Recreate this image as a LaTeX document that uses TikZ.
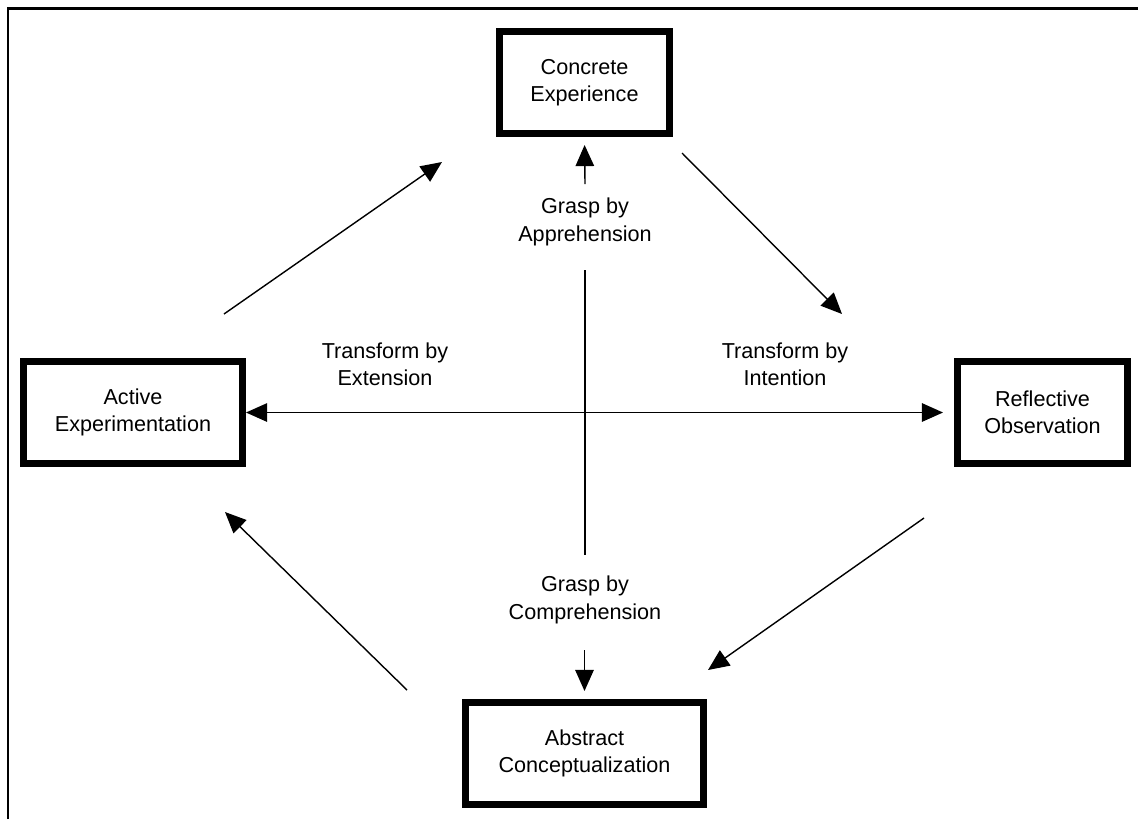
\documentclass[tikz,border=0pt]{standalone}
\usepackage{fontspec}
\setmainfont{Liberation Sans}
\usetikzlibrary{arrows.meta, positioning}
\tikzset{
  modebox/.style={
    rectangle, draw=black, line width=4pt, fill=white,
    minimum width=#1, minimum height=2.04cm,
    align=center, font=\fontsize{12.3}{15.5}\selectfont
  },
  cyclelabel/.style={
    align=center, inner sep=0pt,
    font=\fontsize{12.3}{15.5}\selectfont
  },
  cyclearrow/.style={-{Triangle[length=12pt, width=10.5pt]}, line width=0.8pt},
  twowayarrow/.style={{Triangle[length=12pt, width=10.5pt]}-{Triangle[length=12pt, width=10.5pt]}, line width=0.8pt},
  axisline/.style={line width=0.8pt},
  frameline/.style={line width=1.2pt},
}

\begin{document}
\begin{tikzpicture}[x=0.02cm, y=-0.02cm]
  \useasboundingbox (0,0) rectangle (1138,819);
  \draw[frameline] (8,819) -- (8,8.5) -- (1138,8.5);

  % the four learning modes
  \node[modebox=3.4cm](ce) at (584.5,82.5) {Concrete\\Experience};
  \node[modebox=4.38cm](ae) at (133,412.5) {Active\\Experimentation};
  \node[modebox=3.4cm](ro) at (1042.5,412.5) {Reflective\\Observation};
  \node[modebox=4.76cm](ac) at (584.5,753.5) {Abstract\\Conceptualization};

  % axis labels
  \node[cyclelabel](apprehend) at (585,222) {Grasp by\\Apprehension};
  \node[cyclelabel](comprehend) at (585,600) {Grasp by\\Comprehension};
  \node[cyclelabel](extension) at (385,364) {Transform by\\Extension};
  \node[cyclelabel](intention) at (785,364) {Transform by\\Intention};

  % free ends of the connectors
  \coordinate (upTail) at (585,184);
  \coordinate (downTail) at (584.5,650);
  \coordinate (axisTop) at (585,270);
  \coordinate (axisBot) at (585,555);
  \coordinate (aeOut) at (224,314);
  \coordinate (ceIn) at (442,162);
  \coordinate (ceOut) at (682,153);
  \coordinate (roIn) at (842,314);
  \coordinate (roOut) at (924,518);
  \coordinate (acIn) at (708,670);
  \coordinate (acOut) at (407,690);
  \coordinate (aeIn) at (225,512);

  \draw[axisline](axisTop)--(axisBot);
  \draw[cyclearrow, shorten >=0.16cm](upTail)--(ce.south);
  \draw[cyclearrow, shorten >=0.16cm](downTail)--(ac.north);
  \draw[twowayarrow, shorten >=0.22cm](ae.east)--(ro.west);

  \draw[cyclearrow](aeOut)--(ceIn);
  \draw[cyclearrow](ceOut)--(roIn);
  \draw[cyclearrow](roOut)--(acIn);
  \draw[cyclearrow](acOut)--(aeIn);
\end{tikzpicture}
\end{document}
